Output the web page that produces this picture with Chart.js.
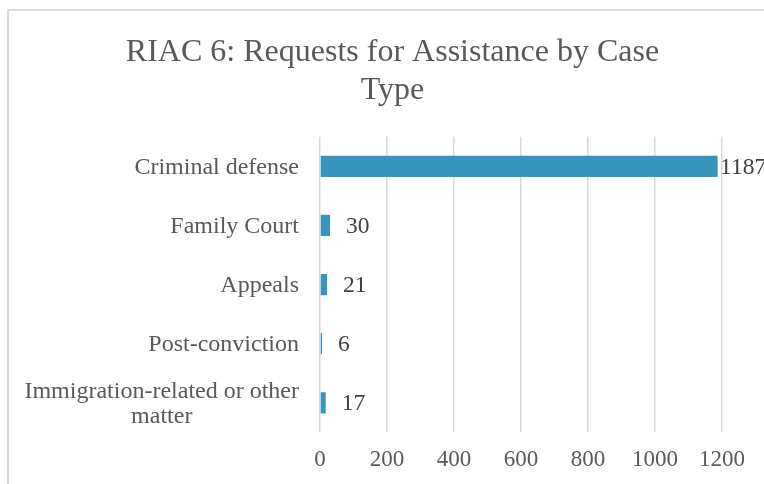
<!DOCTYPE html>
<html>
<head>
<meta charset="utf-8">
<script src="https://cdn.jsdelivr.net/npm/chart.js@4"></script>
<style>
  html, body { margin: 0; padding: 0; background: #fff; overflow: hidden; }
  #frame { position: absolute; left: 7px; top: 9px; width: 800px; height: 520px; border: 2px solid #d9d9d9; }
  #wrap { position: absolute; left: 0; top: 0; width: 766px; height: 477px; }
</style>
</head>
<body>
<div id="frame"><div id="wrap"><canvas id="barChart"></canvas></div></div>
<script>
const categories = [
  'Criminal defense',
  'Family Court',
  'Appeals',
  'Post-conviction',
  ['Immigration-related or other', 'matter']
];
const requests = [1187, 30, 21, 6, 17];
const xTicks = [0, 200, 400, 600, 800, 1000, 1200];

const serif = '"Liberation Serif", "Times New Roman", serif';

// category names on the left, right edge aligned, wrapped lines centred on each other
const categoryLabels = {
  id: 'categoryLabels',
  afterDraw(chart) {
    const ctx = chart.ctx;
    const y = chart.scales.y;
    const right = chart.chartArea.left - 21;
    ctx.save();
    ctx.font = '24px ' + serif;
    ctx.fillStyle = '#595959';
    ctx.textBaseline = 'middle';
    ctx.textAlign = 'center';
    categories.forEach((lab, i) => {
      const lines = Array.isArray(lab) ? lab : [lab];
      const w = Math.max(...lines.map(l => ctx.measureText(l).width));
      const cy = y.getPixelForValue(i) + 1;
      const lh = 25;
      lines.forEach((l, j) => {
        ctx.fillText(l, right - w / 2, cy + (j - (lines.length - 1) / 2) * lh);
      });
    });
    ctx.restore();
  }
};

const valueLabels = {
  id: 'valueLabels',
  afterDatasetsDraw(chart) {
    const ctx = chart.ctx;
    const meta = chart.getDatasetMeta(0);
    ctx.save();
    ctx.font = '23.5px ' + serif;
    ctx.fillStyle = '#404040';
    ctx.textBaseline = 'middle';
    ctx.textAlign = 'left';
    meta.data.forEach((bar, i) => {
      const x = Math.min(bar.x + 16, chart.chartArea.right - 2);
      ctx.fillText(String(requests[i]), x, bar.y + 1);
    });
    ctx.restore();
  }
};

new Chart(document.getElementById('barChart'), {
  type: 'bar',
  data: {
    labels: categories,
    datasets: [{
      label: 'Requests',
      data: requests,
      backgroundColor: '#3794BC',
      barPercentage: 0.36,
      categoryPercentage: 1
    }]
  },
  options: {
    indexAxis: 'y',
    responsive: true,
    maintainAspectRatio: false,
    animation: false,
    layout: { padding: { right: 53, bottom: 0, left: 54, top: 0 } },
    plugins: {
      legend: { display: false },
      tooltip: { enabled: false },
      title: {
        display: true,
        text: ['RIAC 6: Requests for Assistance by Case', 'Type'],
        color: '#595959',
        font: { family: serif, size: 32, weight: 'normal', lineHeight: 1.2 },
        padding: { top: 22, bottom: 27 }
      }
    },
    scales: {
      x: {
        min: 0,
        max: 1200,
        afterBuildTicks(scale) { scale.ticks = xTicks.map(v => ({ value: v })); },
        grid: { color: '#d9d9d9', lineWidth: 1.5, drawTicks: false },
        border: { display: false },
        ticks: {
          color: '#595959',
          padding: 14,
          font: { family: serif, size: 23 },
          callback: v => String(v)
        }
      },
      y: {
        grid: { display: false },
        border: { display: false },
        ticks: { color: 'rgba(0,0,0,0)', autoSkip: false, font: { family: serif, size: 23 } },
        afterFit(scale) { scale.width = 257; }
      }
    }
  },
  plugins: [categoryLabels, valueLabels]
});
</script>
</body>
</html>
